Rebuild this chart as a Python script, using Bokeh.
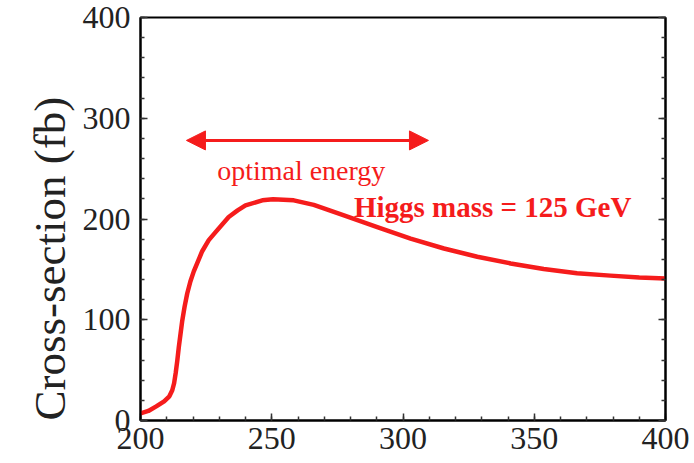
from bokeh.plotting import figure
from bokeh.models import (SingleIntervalTicker, LinearAxis, Range1d, Arrow, NormalHead,
                          Label, Title, CustomJSTickFormatter)
from bokeh.embed import file_html
from bokeh.resources import INLINE

# ---- data ----
energy = [200, 203, 206, 209, 211, 212.1, 212.8, 213.4, 214, 214.6, 215.3, 215.9,
          216.8, 217.8, 219, 220.3, 223.5, 226, 228.6, 233.6, 237, 240, 246.4, 250.5,
          258.4, 266, 277.5, 290.2, 302.9, 315.6, 328.3, 341, 353.6, 366.3, 379, 390, 400]
xsec = [7, 9.5, 14, 19, 24, 30, 37, 47, 59, 73, 87, 99, 113, 126, 138, 148, 168, 179,
        187, 202, 208.5, 213.5, 218.5, 219.5, 218.5, 214, 203.6, 192, 180.6, 170.7,
        162.5, 155.9, 150.4, 146.1, 143.8, 142, 141]
x_range = [200, 400]
y_range = [0, 400]
arrow_x = [217.5, 309.7]
arrow_y = [278, 278]
label_opt = "optimal energy"
label_opt_pos = [229.2, 248]
label_higgs = "Higgs mass = 125 GeV"
label_higgs_pos = [281.3, 212]
y_label = "Cross-section (fb)"

RED = "#f51c1c"
FONT = "Liberation Serif"

p = figure(width=694, height=463, output_backend="svg", toolbar_location=None,
           x_range=Range1d(*x_range), y_range=Range1d(*y_range),
           min_border_left=140, min_border_right=29, min_border_top=17, min_border_bottom=43,
           x_axis_location=None, y_axis_location=None)
p.grid.visible = False
p.outline_line_color = "black"
p.outline_line_width = 2
p.background_fill_color = "white"
p.border_fill_color = "white"


def style_axis(ax, labels=True):
    ax.axis_line_color = "black"
    ax.axis_line_width = 2
    ax.major_tick_in = 7
    ax.major_tick_out = 0
    ax.minor_tick_in = 4
    ax.minor_tick_out = 0
    ax.major_tick_line_color = "#333333"
    ax.minor_tick_line_color = "#333333"
    ax.major_tick_line_width = 1.5
    ax.minor_tick_line_width = 1.5
    ax.major_label_text_font = FONT
    ax.major_label_text_font_size = "32px"
    ax.major_label_text_color = "#222222"
    if not labels:
        ax.formatter = CustomJSTickFormatter(code="return ''")


xax = LinearAxis(ticker=SingleIntervalTicker(interval=50, num_minor_ticks=5))
style_axis(xax)
xax.major_label_standoff = 7
p.add_layout(xax, "below")

yax = LinearAxis(ticker=SingleIntervalTicker(interval=100, num_minor_ticks=5))
style_axis(yax)
yax.major_label_standoff = 10
p.add_layout(yax, "left")

rax = LinearAxis(ticker=SingleIntervalTicker(interval=100, num_minor_ticks=5))
style_axis(rax, labels=False)
rax.major_label_standoff = 0
p.add_layout(rax, "right")

p.add_layout(Title(text=y_label, text_font=FONT, text_font_size="45px",
                   text_font_style="normal", text_color="#222222",
                   align="left", offset=0, standoff=10), "left")

p.line(energy, xsec, line_color=RED, line_width=4.5, line_join="round", line_cap="round")

p.add_layout(Arrow(start=NormalHead(size=19, fill_color=RED, line_color=RED),
                   end=NormalHead(size=19, fill_color=RED, line_color=RED),
                   x_start=arrow_x[0], y_start=arrow_y[0], x_end=arrow_x[1], y_end=arrow_y[1],
                   line_color=RED, line_width=3))

p.add_layout(Label(x=label_opt_pos[0], y=label_opt_pos[1], text=label_opt,
                   text_font=FONT, text_font_size="28px", text_color=RED,
                   text_baseline="alphabetic"))
p.add_layout(Label(x=label_higgs_pos[0], y=label_higgs_pos[1], text=label_higgs,
                   text_font=FONT, text_font_size="29px", text_font_style="bold",
                   text_color=RED, text_baseline="alphabetic"))

open("out.html", "w").write(file_html(p, INLINE))
